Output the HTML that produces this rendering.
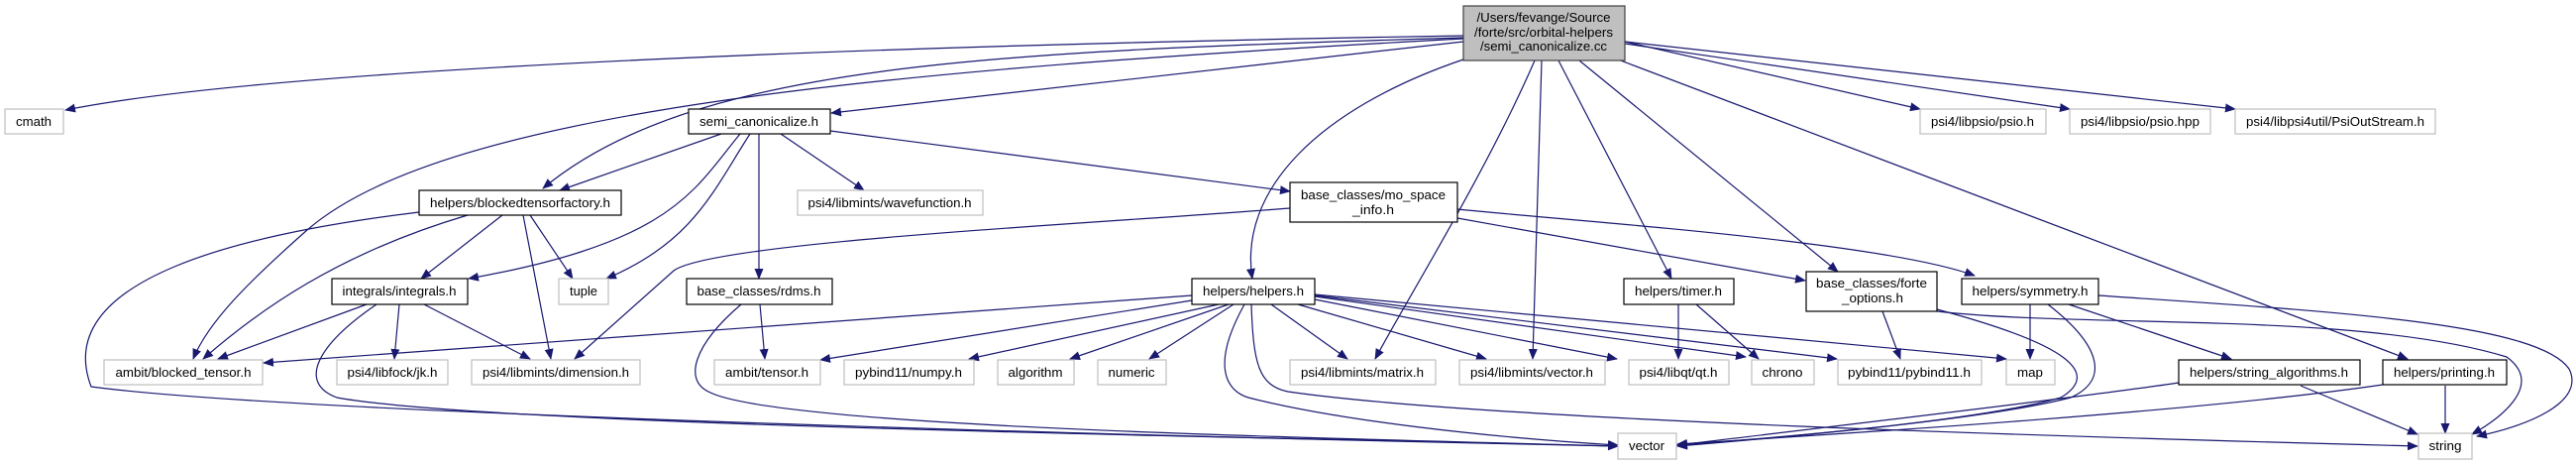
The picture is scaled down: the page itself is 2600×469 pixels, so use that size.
<!DOCTYPE html>
<html><head><meta charset="utf-8"><style>
html,body{margin:0;padding:0;background:#fff;}
svg{display:block;}
text{font-family:"Liberation Sans",sans-serif;font-size:13px;fill:#000;}
</style></head><body>
<svg width="2600" height="469" viewBox="0 0 2600 469" xmlns="http://www.w3.org/2000/svg">
<defs><marker id="a" markerWidth="11" markerHeight="9" refX="10" refY="4.5" orient="auto" markerUnits="userSpaceOnUse"><path d="M0,0 L11,4.5 L0,9 z" fill="#191970"/></marker></defs>
<g fill="none" stroke="#191970" stroke-width="1.2" marker-end="url(#a)">
<path d="M1477,36 C1000,44 300,64 66,111"/>
<path d="M1477,38 C1000,52 700,64 548,190"/>
<path d="M1477,39 C900,70 450,110 310,232 C250,285 210,325 195,362"/>
<path d="M1477,42 L839,114"/>
<path d="M1477,60 C1330,110 1250,192 1264,281"/>
<path d="M1549,61 C1500,174 1420,302 1388,362"/>
<path d="M1556,61 L1547,362"/>
<path d="M1573,61 L1687,281"/>
<path d="M1594,61 L1855,274"/>
<path d="M1633,60 L2430,362"/>
<path d="M1640,42 L1938,110"/>
<path d="M1640,44 L2089,110"/>
<path d="M1640,42 L2256,110"/>
<path d="M728,135 L565,192"/>
<path d="M747,135 C700,192 680,244 473,281"/>
<path d="M757,135 C720,192 700,244 612,281"/>
<path d="M766,135 L766,281"/>
<path d="M788,135 L872,192"/>
<path d="M838,132 L1302,193"/>
<path d="M423,214 C250,235 50,280 92,390 C300,418 1200,441 1633,450"/>
<path d="M472,217 C340,256 260,314 205,362"/>
<path d="M507,217 L425,281"/>
<path d="M535,217 L578,281"/>
<path d="M528,217 L556,362"/>
<path d="M1302,210 C1100,226 720,244 680,273 L580,362"/>
<path d="M1471,211 C1600,224 1900,244 1993,278"/>
<path d="M1471,220 L1822,283"/>
<path d="M370,307 L220,362"/>
<path d="M403,307 L398,362"/>
<path d="M428,307 L535,362"/>
<path d="M380,307 C320,348 300,386 340,401 C500,430 1300,441 1633,450"/>
<path d="M767,307 L772,362"/>
<path d="M748,307 C700,348 690,383 715,395 C780,430 1300,441 1633,450"/>
<path d="M1203,298 L266,366"/>
<path d="M1203,303 L828,363"/>
<path d="M1230,307 L978,362"/>
<path d="M1240,307 L1080,362"/>
<path d="M1245,307 L1160,362"/>
<path d="M1283,307 L1360,362"/>
<path d="M1310,307 L1500,362"/>
<path d="M1327,302 L1632,362"/>
<path d="M1327,299 L1762,360"/>
<path d="M1327,298 L1854,362"/>
<path d="M1327,297 L2025,362"/>
<path d="M1263,307 C1265,366 1270,389 1300,395 C1500,424 2100,441 2440,450"/>
<path d="M1256,307 C1220,372 1240,395 1260,401 C1350,424 1500,441 1633,449"/>
<path d="M1694,307 L1694,362"/>
<path d="M1712,307 L1775,362"/>
<path d="M1900,314 L1918,362"/>
<path d="M1955,312 C2090,348 2120,377 2080,401 C2000,424 1800,441 1693,450"/>
<path d="M1955,314 C2100,331 2380,314 2530,360 C2570,389 2520,424 2495,438"/>
<path d="M2049,307 L2049,362"/>
<path d="M2067,307 C2120,348 2130,383 2090,401 C2000,424 1800,441 1693,449"/>
<path d="M2088,307 L2252,362"/>
<path d="M2118,298 C2350,314 2560,325 2593,372 C2610,406 2550,430 2500,440"/>
<path d="M2199,386 C2100,401 1800,436 1693,449"/>
<path d="M2322,389 L2440,438"/>
<path d="M2405,388 C2200,418 1800,441 1693,448"/>
<path d="M2468,389 L2468,437"/>
</g>
<g stroke-width="1.2">
<rect x="1477" y="6" width="163" height="55" fill="#bfbfbf" stroke="#404040"/>
<g fill="#fff" stroke="#000">
<rect x="695" y="110" width="143" height="25"/>
<rect x="423" y="192" width="204" height="25"/>
<rect x="1302" y="184" width="169" height="40"/>
<rect x="335" y="281" width="137" height="26"/>
<rect x="693" y="281" width="147" height="26"/>
<rect x="1203" y="281" width="124" height="26"/>
<rect x="1639" y="281" width="111" height="26"/>
<rect x="1823" y="274" width="132" height="40"/>
<rect x="1980" y="281" width="138" height="26"/>
<rect x="2199" y="363" width="183" height="25"/>
<rect x="2405" y="363" width="125" height="25"/>
</g>
<g fill="#fff" stroke="#bfbfbf">
<rect x="5" y="110" width="59" height="25"/>
<rect x="1938" y="110" width="127" height="25"/>
<rect x="2089" y="110" width="142" height="25"/>
<rect x="2256" y="110" width="202" height="25"/>
<rect x="805" y="192" width="187" height="25"/>
<rect x="564" y="281" width="50" height="26"/>
<rect x="105" y="363" width="160" height="25"/>
<rect x="340" y="363" width="112" height="25"/>
<rect x="476" y="363" width="170" height="25"/>
<rect x="721" y="363" width="107" height="25"/>
<rect x="852" y="363" width="131" height="25"/>
<rect x="1007" y="363" width="77" height="25"/>
<rect x="1108" y="363" width="69" height="25"/>
<rect x="1302" y="363" width="147" height="25"/>
<rect x="1473" y="363" width="147" height="25"/>
<rect x="1644" y="363" width="101" height="25"/>
<rect x="1768" y="363" width="63" height="25"/>
<rect x="1855" y="363" width="145" height="25"/>
<rect x="2025" y="363" width="49" height="25"/>
<rect x="1633" y="437" width="59" height="26"/>
<rect x="2441" y="437" width="54" height="26"/>
</g>
</g>
<g text-anchor="middle">
<text x="1558" y="22" textLength="135" lengthAdjust="spacingAndGlyphs">/Users/fevange/Source</text>
<text x="1558" y="37" textLength="140" lengthAdjust="spacingAndGlyphs">/forte/src/orbital-helpers</text>
<text x="1558" y="51" textLength="128" lengthAdjust="spacingAndGlyphs">/semi_canonicalize.cc</text>
<text x="766" y="127" textLength="120" lengthAdjust="spacingAndGlyphs">semi_canonicalize.h</text>
<text x="525" y="209" textLength="182" lengthAdjust="spacingAndGlyphs">helpers/blockedtensorfactory.h</text>
<text x="1386" y="201" textLength="146" lengthAdjust="spacingAndGlyphs">base_classes/mo_space</text>
<text x="1386" y="216" textLength="42" lengthAdjust="spacingAndGlyphs">_info.h</text>
<text x="403" y="298" textLength="115" lengthAdjust="spacingAndGlyphs">integrals/integrals.h</text>
<text x="766" y="298" textLength="125" lengthAdjust="spacingAndGlyphs">base_classes/rdms.h</text>
<text x="1265" y="298" textLength="102" lengthAdjust="spacingAndGlyphs">helpers/helpers.h</text>
<text x="1694" y="298" textLength="88" lengthAdjust="spacingAndGlyphs">helpers/timer.h</text>
<text x="1889" y="290" textLength="112" lengthAdjust="spacingAndGlyphs">base_classes/forte</text>
<text x="1890" y="305" textLength="62" lengthAdjust="spacingAndGlyphs">_options.h</text>
<text x="2049" y="298" textLength="117" lengthAdjust="spacingAndGlyphs">helpers/symmetry.h</text>
<text x="2290" y="380" textLength="160" lengthAdjust="spacingAndGlyphs">helpers/string_algorithms.h</text>
<text x="2467" y="380" textLength="102" lengthAdjust="spacingAndGlyphs">helpers/printing.h</text>
<text x="34" y="127" textLength="36" lengthAdjust="spacingAndGlyphs">cmath</text>
<text x="2001" y="127" textLength="104" lengthAdjust="spacingAndGlyphs">psi4/libpsio/psio.h</text>
<text x="2160" y="127" textLength="120" lengthAdjust="spacingAndGlyphs">psi4/libpsio/psio.hpp</text>
<text x="2357" y="127" textLength="180" lengthAdjust="spacingAndGlyphs">psi4/libpsi4util/PsiOutStream.h</text>
<text x="898" y="209" textLength="165" lengthAdjust="spacingAndGlyphs">psi4/libmints/wavefunction.h</text>
<text x="589" y="298" textLength="28" lengthAdjust="spacingAndGlyphs">tuple</text>
<text x="185" y="380" textLength="137" lengthAdjust="spacingAndGlyphs">ambit/blocked_tensor.h</text>
<text x="396" y="380" textLength="91" lengthAdjust="spacingAndGlyphs">psi4/libfock/jk.h</text>
<text x="561" y="380" textLength="148" lengthAdjust="spacingAndGlyphs">psi4/libmints/dimension.h</text>
<text x="774" y="380" textLength="84" lengthAdjust="spacingAndGlyphs">ambit/tensor.h</text>
<text x="917" y="380" textLength="108" lengthAdjust="spacingAndGlyphs">pybind11/numpy.h</text>
<text x="1045" y="380" textLength="55" lengthAdjust="spacingAndGlyphs">algorithm</text>
<text x="1142" y="380" textLength="47" lengthAdjust="spacingAndGlyphs">numeric</text>
<text x="1375" y="380" textLength="124" lengthAdjust="spacingAndGlyphs">psi4/libmints/matrix.h</text>
<text x="1546" y="380" textLength="124" lengthAdjust="spacingAndGlyphs">psi4/libmints/vector.h</text>
<text x="1694" y="380" textLength="79" lengthAdjust="spacingAndGlyphs">psi4/libqt/qt.h</text>
<text x="1799" y="380" textLength="41" lengthAdjust="spacingAndGlyphs">chrono</text>
<text x="1927" y="380" textLength="124" lengthAdjust="spacingAndGlyphs">pybind11/pybind11.h</text>
<text x="2049" y="380" textLength="26" lengthAdjust="spacingAndGlyphs">map</text>
<text x="1662" y="454" textLength="36" lengthAdjust="spacingAndGlyphs">vector</text>
<text x="2468" y="454" textLength="33" lengthAdjust="spacingAndGlyphs">string</text>
</g>
</svg>
</body></html>
